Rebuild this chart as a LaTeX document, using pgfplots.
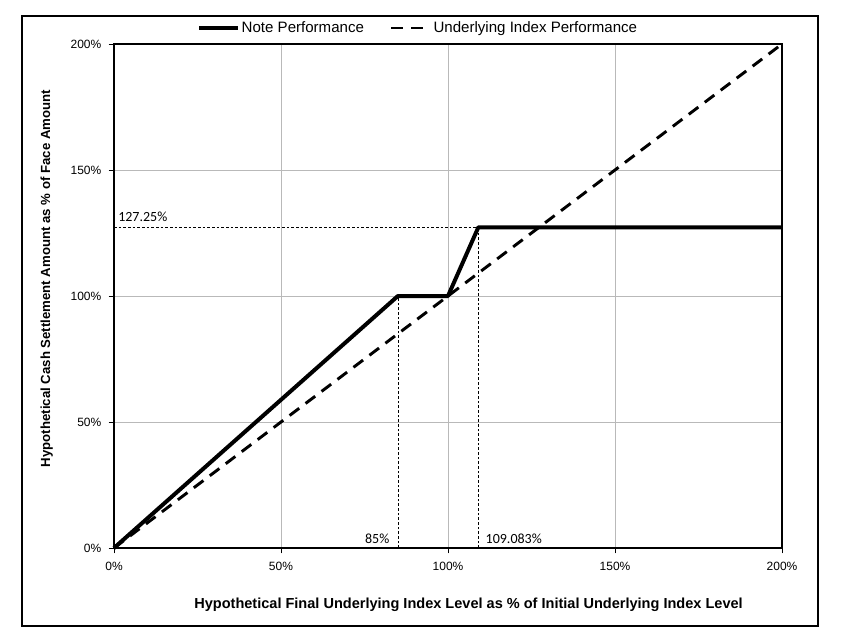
\documentclass[border=0pt]{standalone}
\usepackage{pgfplots}
\pgfplotsset{compat=1.18}
\usepackage{fontspec}
\setmainfont{Liberation Sans}
\newfontfamily\calibri{Carlito}
\begin{document}
\begin{tikzpicture}
\path (0,0) rectangle (639.75pt,-481.5pt);
\draw[line width=0.8pt] (16.5pt,-12pt) rectangle (613.5pt,-469.5pt);
\begin{axis}[
  at={(85.5pt,-411pt)}, anchor=south west,
  scale only axis, width=501pt, height=378pt,
  xmin=0, xmax=200, ymin=0, ymax=200,
  xtick={0,50,100,150,200}, ytick={0,50,100,150,200},
  xticklabels={0\%,50\%,100\%,150\%,200\%},
  yticklabels={0\%,50\%,100\%,150\%,200\%},
  tick pos=left, tick align=outside, major tick length=4pt,
  tick style={black, line width=0.6pt},
  grid=major, grid style={gray!55, line width=0.5pt},
  axis line style={black, line width=0.8pt},
  ticklabel style={font=\fontsize{9}{10}\selectfont},
  yticklabel style={xshift=-2pt},
  xticklabel style={yshift=-3pt},
  legend columns=2,
  legend style={at={(0.4552,1.0317)}, anchor=center, draw=none, fill=none,
    font=\fontsize{11.3}{12}\selectfont,
    /tikz/every even column/.append style={column sep=18pt},
    nodes={inner sep=1.5pt},
    inner sep=0pt},
  legend cell align=left,
  legend image code/.code={\draw[#1] (0pt,0pt) -- (29pt,0pt);},
  clip=false,
]
\addplot[black, line width=3pt, line join=round] coordinates {(0,0) (85,100) (100,100) (109.083,127.25) (200,127.25)};
\addlegendentry{Note Performance}
\addplot[black, line width=2.2pt, dash pattern=on 9pt off 6pt] coordinates {(0,0) (200,200)};
\addlegendentry{Underlying Index Performance}
\addplot[black, line width=0.5pt, dash pattern=on 2pt off 1.5pt, forget plot] coordinates {(0,127.25) (109.083,127.25)};
\addplot[black, line width=0.5pt, dash pattern=on 2pt off 1.5pt, forget plot] coordinates {(85,0) (85,100)};
\addplot[black, line width=0.5pt, dash pattern=on 2pt off 1.5pt, forget plot] coordinates {(109.083,0) (109.083,127.25)};
\node[anchor=south west, inner sep=0pt, font=\calibri\fontsize{10.5}{12}\selectfont] at (axis cs:1.2,129.5) {127.25\%};
\node[anchor=south east, inner sep=0pt, font=\calibri\fontsize{10.5}{12}\selectfont] at (axis cs:82.5,1.8) {85\%};
\node[anchor=south west, inner sep=0pt, font=\calibri\fontsize{10.5}{12}\selectfont] at (axis cs:111.2,1.8) {109.083\%};
\node[font=\bfseries\fontsize{10.9}{12}\selectfont] at (rel axis cs:0.5307,-0.113) {Hypothetical Final Underlying Index Level as \% of Initial Underlying Index Level};
\node[rotate=90, font=\bfseries\fontsize{9.9}{11}\selectfont] at (rel axis cs:-0.1007,0.5347) {Hypothetical Cash Settlement Amount as \% of Face Amount};
\end{axis}
\end{tikzpicture}
\end{document}
